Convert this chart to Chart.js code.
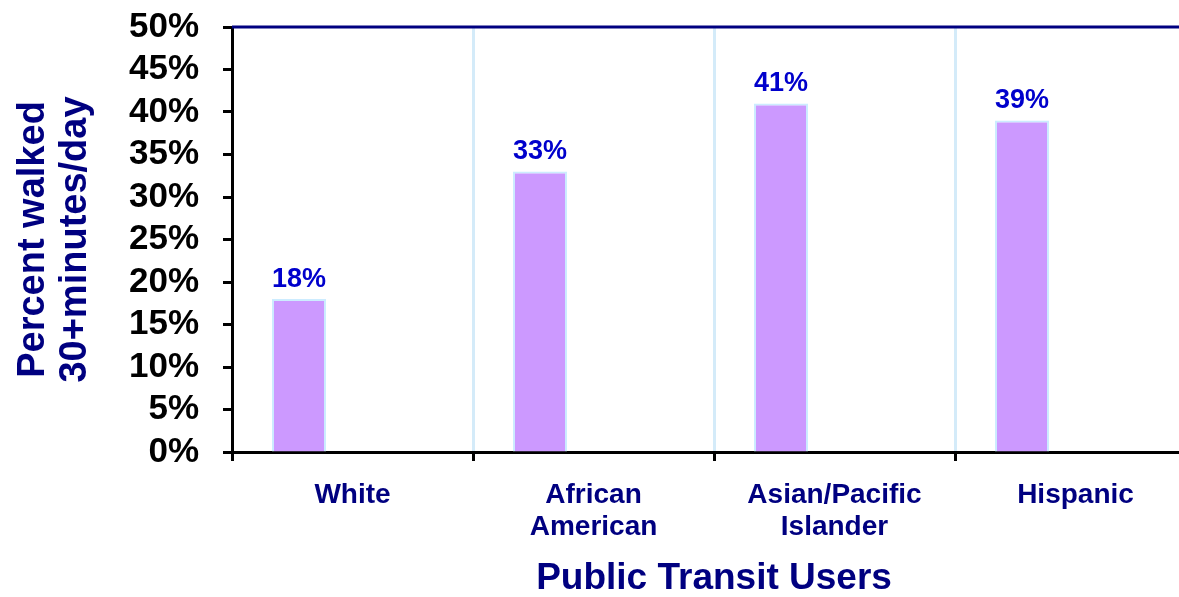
<!DOCTYPE html>
<html lang="en">
<head>
  <meta charset="UTF-8" />
  <title>Public Transit Users - Walking</title>
  <script src="https://cdn.jsdelivr.net/npm/chart.js"></script>
  <style>
    html, body { margin: 0; padding: 0; background: #fff; overflow: hidden; }
    #wrap { width: 1200px; height: 597px; }
  </style>
</head>
<body>
  <div id="wrap">
    <canvas id="walkChart" width="1200" height="597"></canvas>
  </div>

  <script>
    // Categorias e valores (percentual que caminha 30+ minutos/dia)
    const groups = [['White'], ['African', 'American'], ['Asian/Pacific', 'Islander'], ['Hispanic']];
    const walkedPct = [18, 33, 41, 39];
    const spacerPct = [null, null, null, null]; // serie vazia, deixa a barra a esquerda do grupo

    const yMin = 0;
    const yMax = 50;
    const yStep = 5;

    const NAVY = '#000080';
    const FONT = "'Liberation Sans', Arial, sans-serif";

    // Rotulos de valor acima das barras
    const valueLabels = {
      id: 'valueLabels',
      afterDatasetsDraw(chart) {
        const ctx = chart.ctx;
        const meta = chart.getDatasetMeta(0);
        ctx.save();
        ctx.font = 'bold 27px ' + FONT;
        ctx.fillStyle = '#0000CC';
        ctx.textAlign = 'center';
        ctx.textBaseline = 'bottom';
        meta.data.forEach((bar, i) => {
          ctx.fillText(walkedPct[i] + '%', bar.x, bar.y - 6);
        });
        ctx.restore();
      }
    };

    // Linha azul-marinho no topo da area do grafico
    const topBorder = {
      id: 'topBorder',
      afterDraw(chart) {
        const { ctx, chartArea } = chart;
        ctx.save();
        ctx.strokeStyle = NAVY;
        ctx.lineWidth = 3;
        ctx.beginPath();
        ctx.moveTo(chartArea.left, chartArea.top);
        ctx.lineTo(chartArea.right, chartArea.top);
        ctx.stroke();
        ctx.restore();
      }
    };

    new Chart(document.getElementById('walkChart').getContext('2d'), {
      type: 'bar',
      data: {
        labels: groups,
        datasets: [
          {
            label: 'Percent walked',
            data: walkedPct,
            backgroundColor: '#CC99FF',
            borderColor: '#CCECFF',
            borderWidth: 2,
            categoryPercentage: 0.888,
            barPercentage: 0.505
          },
          {
            label: '',
            data: spacerPct,
            categoryPercentage: 0.888,
            barPercentage: 0.505
          }
        ]
      },
      options: {
        responsive: false,
        animation: false,
        devicePixelRatio: 1,
        layout: { padding: { top: 27, right: 4, left: 0, bottom: 0 } },
        plugins: {
          legend: { display: false },
          tooltip: { enabled: false }
        },
        scales: {
          x: {
            offset: true,
            border: { color: '#000', width: 3 },
            grid: {
              offset: true,
              color: '#D4EBF9',
              lineWidth: 3,
              tickColor: '#000',
              tickWidth: 3,
              tickLength: 9
            },
            ticks: {
              color: NAVY,
              font: { family: FONT, size: 28, weight: 'bold', lineHeight: 1.15 },
              padding: 18,
              maxRotation: 0
            },
            title: {
              display: true,
              text: 'Public Transit Users',
              color: NAVY,
              font: { family: FONT, size: 37, weight: 'bold', lineHeight: 1 },
              padding: { top: 16, bottom: 0 }
            },
            afterFit(scale) {
              scale.height = 145;
              scale.paddingLeft = 0;
              scale.paddingRight = 0;
            }
          },
          y: {
            min: yMin,
            max: yMax,
            border: { color: '#000', width: 3 },
            grid: {
              drawOnChartArea: false,
              tickColor: '#000',
              tickWidth: 3,
              tickLength: 9
            },
            ticks: {
              stepSize: yStep,
              autoSkip: false,
              color: '#000',
              font: { family: FONT, size: 35, weight: 'bold', lineHeight: 1 },
              padding: 24,
              callback: (v) => v + '%'
            },
            title: {
              display: true,
              text: ['Percent walked', '30+minutes/day'],
              color: NAVY,
              font: { family: FONT, size: 38, weight: 'bold', lineHeight: 1.12 },
              padding: { top: 12, bottom: 10 }
            },
            afterFit(scale) {
              scale.width = 232;
              scale.paddingTop = 0;
              scale.paddingBottom = 0;
            }
          }
        }
      },
      plugins: [valueLabels, topBorder]
    });
  </script>
</body>
</html>
